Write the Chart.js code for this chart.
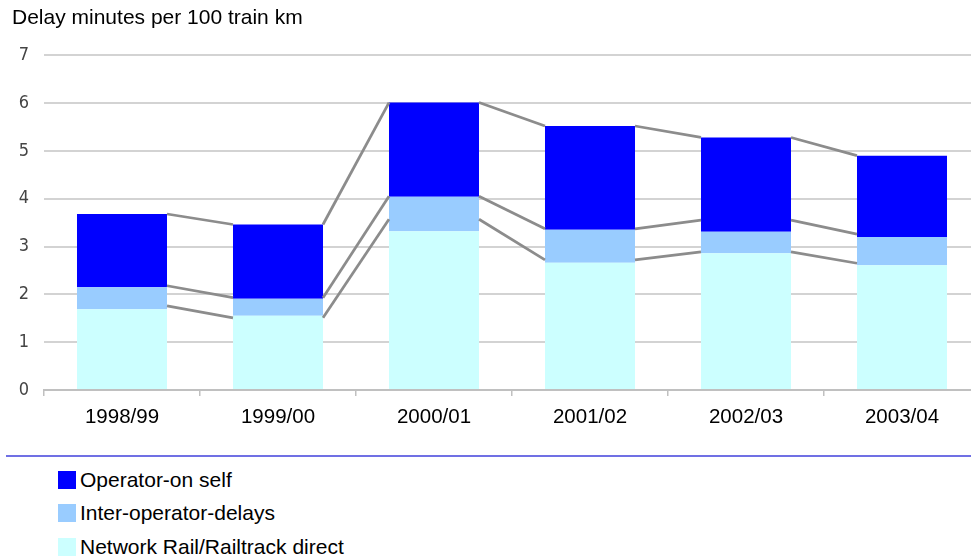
<!DOCTYPE html>
<html><head><meta charset="utf-8">
<script src="https://cdn.jsdelivr.net/npm/chart.js@4"></script>
<style>
html,body{margin:0;padding:0;width:971px;height:558px;overflow:hidden;background:#fff;font-family:Arial,"Liberation Sans",sans-serif;}
#c{position:absolute;left:0;top:0;}
#rule{position:absolute;left:6px;top:455px;width:980px;height:2px;background:#7070e4;}
.leg{position:absolute;left:58px;height:19px;display:flex;align-items:center;font-size:21px;color:#000;white-space:nowrap;font-family:Arial,"Liberation Sans",sans-serif;}
.leg .box{width:18px;height:18px;margin-right:4px;flex:none;}
</style></head>
<body>
<canvas id="c" width="982" height="426"></canvas>
<div id="rule"></div>
<div id="legend"></div>
<script>
const categories = ["1998/99","1999/00","2000/01","2001/02","2002/03","2003/04"];
const networkRail = [1.69, 1.55, 3.32, 2.66, 2.86, 2.61];
const interOperator = [0.46, 0.36, 0.72, 0.69, 0.45, 0.59];
const operatorOnSelf = [1.53, 1.55, 1.97, 2.17, 1.97, 1.70];
const yTicks = [0, 1, 2, 3, 4, 5, 6, 7];
const seriesNames = ["Network Rail/Railtrack direct", "Inter-operator-delays", "Operator-on self"];
const seriesColors = ["#ccffff", "#99ccff", "#0000ff"];
const titleText = "Delay minutes per 100 train km";
// levels of the grey series lines (bottom, middle, top)
const lineBottom = [1.76, 1.51, 3.57, 2.72, 2.89, 2.65];
const lineMiddle = [2.18, 1.93, 4.05, 3.37, 3.55, 3.26];
const lineTop = [3.68, 3.46, 6.01, 5.52, 5.28, 4.90];
const seriesLevels = [lineBottom, lineMiddle, lineTop];

const seriesLines = {
  id: 'seriesLines',
  afterDatasetsDraw(chart) {
    const ctx = chart.ctx;
    const ys = chart.scales.y;
    const meta = chart.getDatasetMeta(0);
    ctx.save();
    ctx.strokeStyle = '#8c8c8c';
    ctx.lineWidth = 2.75;
    ctx.lineCap = 'butt';
    seriesLevels.forEach(level => {
      for (let i = 0; i < meta.data.length - 1; i++) {
        const a = meta.data[i], b = meta.data[i + 1];
        ctx.beginPath();
        ctx.moveTo(a.x + a.width / 2, ys.getPixelForValue(level[i]));
        ctx.lineTo(b.x - b.width / 2, ys.getPixelForValue(level[i + 1]));
        ctx.stroke();
      }
    });
    ctx.restore();
  }
};

const seriesData = [networkRail, interOperator, operatorOnSelf];

new Chart(document.getElementById('c'), {
  type: 'bar',
  data: {
    labels: categories,
    datasets: seriesData.map((vals, i) => ({
      label: seriesNames[i],
      data: vals,
      backgroundColor: seriesColors[i],
      borderWidth: 0,
      barPercentage: 0.577,
      categoryPercentage: 1.0
    }))
  },
  options: {
    responsive: false,
    animation: false,
    layout: { padding: { left: 12, right: 2, top: 0, bottom: 0 } },
    plugins: {
      legend: { display: false },
      tooltip: { enabled: false },
      title: {
        display: true,
        text: titleText,
        align: 'start',
        color: '#000',
        font: { family: 'Arial, "Liberation Sans", sans-serif', size: 21, weight: 'normal' },
        padding: { top: 6, bottom: 24 }
      }
    },
    scales: {
      x: {
        stacked: true,
        afterFit(s) { s.height = 36; },
        grid: { display: true, drawOnChartArea: false, drawTicks: true, tickLength: 6, color: '#c0c0c0', lineWidth: 1.5, offset: true },
        border: { display: true, color: '#c0c0c0', width: 2 },
        ticks: { color: '#000', padding: 9, font: { family: 'Arial, "Liberation Sans", sans-serif', size: 20.5 } }
      },
      y: {
        stacked: true,
        min: yTicks[0],
        max: yTicks[yTicks.length - 1],
        afterFit(s) { s.width = 32; },
        afterBuildTicks(s) { s.ticks = yTicks.map(v => ({ value: v })); },
        grid: { color: '#d3d3d3', lineWidth: 2, drawTicks: false },
        border: { display: false },
        ticks: { color: '#444', padding: 15, font: { family: '"Liberation Sans Narrow", "DejaVu Sans Condensed", Arial, sans-serif', size: 18 } }
      }
    }
  },
  plugins: [seriesLines]
});

const legendEl = document.getElementById('legend');
const legendTops = [470, 503, 537];
for (let k = 0; k < seriesNames.length; k++) {
  const i = seriesNames.length - 1 - k;
  const row = document.createElement('div');
  row.className = 'leg';
  row.style.top = legendTops[k] + 'px';
  const box = document.createElement('span');
  box.className = 'box';
  box.style.background = seriesColors[i];
  const txt = document.createElement('span');
  txt.textContent = seriesNames[i];
  row.appendChild(box);
  row.appendChild(txt);
  legendEl.appendChild(row);
}
</script>
</body></html>
